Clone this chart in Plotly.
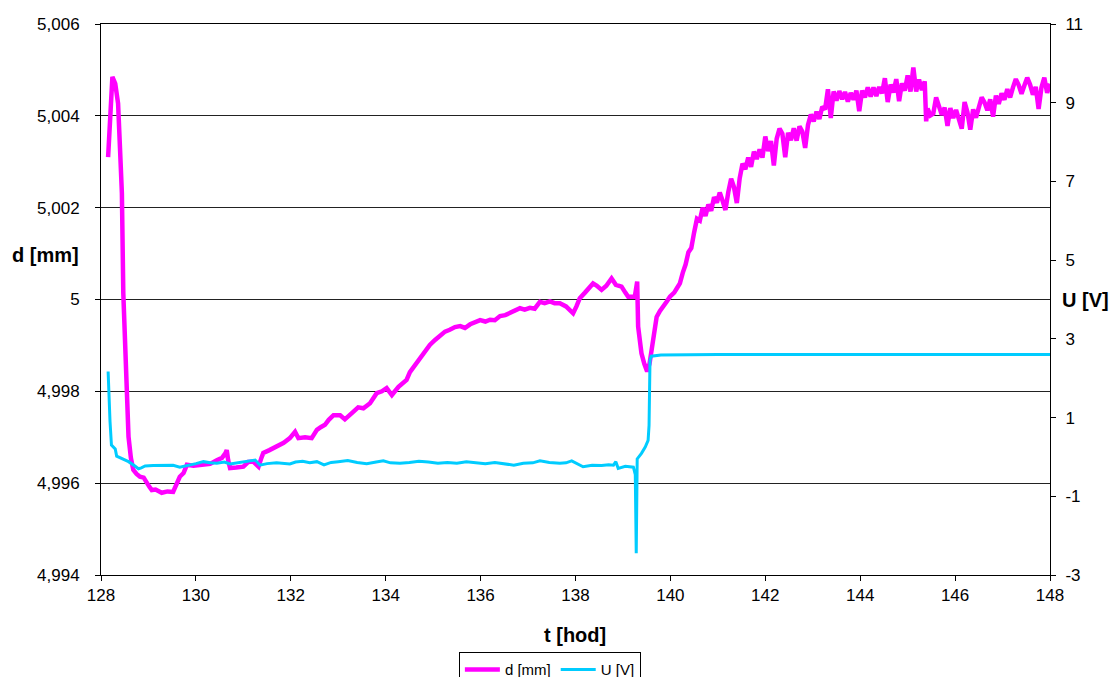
import plotly.graph_objects as go

# ---------------- data ----------------
t_d_a = [128.15, 128.20, 128.24, 128.30, 128.36, 128.40, 128.44, 128.47, 128.50, 128.53,
         128.58, 128.63, 128.68, 128.75, 128.82, 128.90, 128.96, 129.02, 129.07, 129.15,
         129.28, 129.40, 129.52, 129.60, 129.66, 129.74, 129.81, 129.95, 130.16, 130.30,
         130.44, 130.55, 130.62, 130.65, 130.68, 130.72, 130.85, 131.00, 131.10, 131.21,
         131.28, 131.32, 131.38, 131.42, 131.55, 131.70, 131.85, 131.98]
d_a = [5.00310, 5.00440, 5.00485, 5.00470, 5.00427, 5.00330, 5.00232, 5.00014, 4.99905, 4.99796,
       4.99701, 4.99655, 4.99629, 4.99620, 4.99614, 4.99612, 4.99600, 4.99592, 4.99585, 4.99586,
       4.99579, 4.99582, 4.99581, 4.99598, 4.99614, 4.99622, 4.99640, 4.99638, 4.99640, 4.99642,
       4.99650, 4.99655, 4.99665, 4.99672, 4.99650, 4.99633, 4.99634, 4.99636, 4.99646, 4.99647,
       4.99640, 4.99636, 4.99655, 4.99666, 4.99672, 4.99679, 4.99688, 4.99698]

t_d_b = [132.09, 132.16, 132.30, 132.44, 132.55, 132.63, 132.72, 132.80, 132.90, 133.04,
         133.14, 133.28, 133.42, 133.53, 133.67, 133.81, 133.92, 134.02, 134.13, 134.27,
         134.44, 134.51, 134.62, 134.72, 134.82, 134.93, 135.04, 135.14, 135.25, 135.35,
         135.46, 135.57, 135.67, 135.78, 135.88, 135.99, 136.10, 136.20, 136.30, 136.41,
         136.52, 136.62, 136.72, 136.83, 136.93, 137.04, 137.14, 137.25, 137.35, 137.46,
         137.56]
d_b = [4.99712, 4.99698, 4.99700, 4.99698, 4.99716, 4.99722, 4.99727, 4.99738, 4.99748, 4.99748,
       4.99739, 4.99752, 4.99765, 4.99763, 4.99774, 4.99796, 4.99800, 4.99807, 4.99792, 4.99810,
       4.99825, 4.99842, 4.99858, 4.99873, 4.99884, 4.99901, 4.99912, 4.99920, 4.99930, 4.99934,
       4.99940, 4.99942, 4.99938, 4.99946, 4.99950, 4.99955, 4.99952, 4.99956, 4.99955, 4.99964,
       4.99966, 4.99971, 4.99976, 4.99981, 4.99978, 4.99982, 4.99980, 4.99995, 4.99992, 4.99996,
       4.99992]

t_d_c = [137.67, 137.80, 137.95, 138.02, 138.09, 138.20, 138.37, 138.45, 138.55, 138.65,
         138.76, 138.85, 138.97, 139.05, 139.11, 139.25, 139.30, 139.32, 139.39, 139.45,
         139.51, 139.56, 139.61, 139.66, 139.71, 139.78, 139.85, 139.92, 139.99, 140.08,
         140.14]
d_c = [4.99992, 4.99985, 4.99970, 4.99985, 5.00003, 5.00015, 5.00035, 5.00030, 5.00021, 5.00030,
       5.00046, 5.00032, 5.00028, 5.00015, 5.00006, 5.00006, 5.00039, 4.99941, 4.99883, 4.99860,
       4.99843, 4.99860, 4.99897, 4.99935, 4.99962, 4.99975, 4.99984, 4.99995, 5.00006, 5.00015,
       5.00025]

t_d_d = [140.20, 140.26, 140.32, 140.38, 140.44, 140.50, 140.56, 140.62, 140.68, 140.74,
         140.80, 140.86, 140.92, 140.98, 141.04, 141.10, 141.16, 141.22, 141.28, 141.34,
         141.40, 141.46, 141.52, 141.58, 141.64, 141.70, 141.76, 141.82, 141.88, 141.94,
         142.00, 142.06, 142.12, 142.18, 142.24, 142.30, 142.36, 142.42, 142.48, 142.54,
         142.60, 142.66, 142.72, 142.78, 142.84, 142.90, 142.96, 143.02, 143.08, 143.14,
         143.20, 143.26, 143.32, 143.38, 143.44, 143.50, 143.56, 143.62, 143.68, 143.74,
         143.80, 143.86, 143.92, 143.98, 144.04, 144.10, 144.16, 144.22, 144.28, 144.34,
         144.40, 144.46, 144.52, 144.58, 144.64, 144.70, 144.76, 144.82, 144.88, 144.94,
         145.00, 145.06, 145.12, 145.18, 145.24, 145.30, 145.36, 145.39, 145.42, 145.48,
         145.54, 145.60, 145.66, 145.72, 145.78, 145.84, 145.90, 145.96, 146.02, 146.08,
         146.14, 146.20, 146.26, 146.32, 146.38, 146.44, 146.50, 146.56, 146.62, 146.68,
         146.74, 146.80, 146.86, 146.92, 146.98, 147.04, 147.10, 147.16, 147.22, 147.28,
         147.34, 147.40, 147.46, 147.52, 147.58, 147.64, 147.70, 147.76, 147.82, 147.88,
         147.94, 148.00]
d_d = [5.00035, 5.00058, 5.00076, 5.00103, 5.00112, 5.00146, 5.00176, 5.00172, 5.00200, 5.00182,
       5.00207, 5.00193, 5.00223, 5.00211, 5.00233, 5.00215, 5.00195, 5.00234, 5.00263, 5.00245,
       5.00210, 5.00264, 5.00296, 5.00284, 5.00309, 5.00289, 5.00322, 5.00306, 5.00327, 5.00309,
       5.00355, 5.00323, 5.00345, 5.00292, 5.00350, 5.00372, 5.00361, 5.00310, 5.00363, 5.00347,
       5.00373, 5.00346, 5.00377, 5.00366, 5.00330, 5.00380, 5.00403, 5.00388, 5.00409, 5.00393,
       5.00420, 5.00414, 5.00458, 5.00395, 5.00453, 5.00433, 5.00454, 5.00436, 5.00452, 5.00431,
       5.00450, 5.00435, 5.00455, 5.00410, 5.00455, 5.00440, 5.00462, 5.00442, 5.00462, 5.00443,
       5.00463, 5.00449, 5.00482, 5.00430, 5.00468, 5.00451, 5.00480, 5.00432, 5.00471, 5.00455,
       5.00488, 5.00453, 5.00505, 5.00453, 5.00479, 5.00456, 5.00475, 5.00388, 5.00416, 5.00401,
       5.00405, 5.00440, 5.00422, 5.00402, 5.00418, 5.00378, 5.00417, 5.00395, 5.00413, 5.00392,
       5.00372, 5.00430, 5.00408, 5.00370, 5.00414, 5.00396, 5.00418, 5.00440, 5.00429, 5.00412,
       5.00436, 5.00398, 5.00444, 5.00426, 5.00449, 5.00435, 5.00458, 5.00440, 5.00462, 5.00480,
       5.00467, 5.00448, 5.00466, 5.00483, 5.00468, 5.00446, 5.00463, 5.00415, 5.00462, 5.00483,
       5.00450, 5.00470]

t_u = [128.15, 128.17, 128.19, 128.22, 128.30, 128.33, 128.45, 128.58, 128.70, 128.79,
       128.85, 128.93, 129.10, 129.30, 129.52, 129.66, 129.88, 130.00, 130.16, 130.30,
       130.44, 130.60, 130.72, 130.90, 131.07, 131.25, 131.35, 131.50, 131.70, 131.85,
       131.98, 132.10, 132.25, 132.40, 132.55, 132.70, 132.85, 133.00, 133.20, 133.40,
       133.60, 133.80, 133.95, 134.10, 134.30, 134.50, 134.70, 134.90, 135.10, 135.30,
       135.50, 135.70, 135.90, 136.10, 136.30, 136.50, 136.70, 136.90, 137.10, 137.25,
       137.45, 137.67, 137.80, 137.92, 138.05, 138.16, 138.35, 138.55, 138.70, 138.80,
       138.85, 138.90, 139.05, 139.22, 139.26, 139.28, 139.30, 139.39, 139.47, 139.53,
       139.55, 139.56, 139.57, 139.60, 139.80, 141.00, 143.00, 145.00, 146.50, 148.00]
u_v = [2.17, 1.40, 0.90, 0.30, 0.20, 0.02, -0.04, -0.12, -0.22, -0.30,
       -0.28, -0.23, -0.22, -0.21, -0.21, -0.26, -0.21, -0.17, -0.12, -0.15,
       -0.16, -0.13, -0.18, -0.15, -0.12, -0.08, -0.21, -0.17, -0.15, -0.16,
       -0.18, -0.13, -0.11, -0.15, -0.12, -0.20, -0.14, -0.12, -0.09, -0.14,
       -0.17, -0.13, -0.10, -0.15, -0.16, -0.14, -0.11, -0.13, -0.16, -0.14,
       -0.16, -0.12, -0.15, -0.17, -0.14, -0.18, -0.21, -0.16, -0.15, -0.10,
       -0.14, -0.16, -0.15, -0.10, -0.18, -0.25, -0.21, -0.22, -0.20, -0.21,
       -0.12, -0.29, -0.24, -0.26, -0.45, -2.45, -0.05, 0.09, 0.25, 0.42,
       0.80, 1.80, 2.46, 2.56, 2.59, 2.60, 2.60, 2.60, 2.60, 2.60]

t_d = t_d_a + t_d_b + t_d_c + t_d_d
d_mm = d_a + d_b + d_c + d_d

x_ticks = [128, 130, 132, 134, 136, 138, 140, 142, 144, 146, 148]
y_ticks = [4.994, 4.996, 4.998, 5.000, 5.002, 5.004, 5.006]
y_tick_labels = ["4,994", "4,996", "4,998", "5", "5,002", "5,004", "5,006"]
y2_ticks = [-3, -1, 1, 3, 5, 7, 9, 11]
y2_tick_labels = ["-3", "-1", "1", "3", "5", "7", "9", "11"]

FONT = "Liberation Sans, Arial, sans-serif"

fig = go.Figure()
fig.add_trace(go.Scatter(x=t_d, y=d_mm, mode="lines", name="d [mm]",
                         line=dict(color="#FF00FF", width=4.5)))
fig.add_trace(go.Scatter(x=t_u, y=u_v, mode="lines", name="U [V]", yaxis="y2",
                         line=dict(color="#00CCFF", width=3)))

fig.update_layout(
    width=1116, height=677,
    margin=dict(l=101, r=66, t=24, b=102, autoexpand=False),
    paper_bgcolor="white", plot_bgcolor="white",
    font=dict(family=FONT, size=17, color="black"),
    showlegend=True,
    legend=dict(orientation="h", x=0.473, xanchor="center", y=-0.14, yanchor="top",
                bordercolor="black", borderwidth=1, font=dict(size=15),
                itemwidth=35, tracegroupgap=0),
    xaxis=dict(range=[128, 148], tickvals=x_ticks, ticks="outside", ticklen=5,
               tickcolor="black", showline=True, linecolor="black", linewidth=1,
               mirror=True, showgrid=False, zeroline=False, ticklabelstandoff=0,
               automargin=False),
    yaxis=dict(range=[4.994, 5.006], tickvals=y_ticks, ticktext=y_tick_labels,
               ticks="outside", ticklen=5, tickcolor="black", showline=True,
               linecolor="black", linewidth=1, showgrid=True, gridcolor="#222222",
               gridwidth=1, zeroline=False, ticklabelstandoff=12, automargin=False),
    yaxis2=dict(range=[-3, 11], tickvals=y2_ticks, ticktext=y2_tick_labels,
                overlaying="y", side="right", ticks="outside", ticklen=5,
                tickcolor="black", showline=True, linecolor="black", linewidth=1,
                showgrid=False, zeroline=False, ticklabelstandoff=6, automargin=False),
    annotations=[
        dict(text="<b>d [mm]</b>", xref="paper", yref="paper", x=-0.059, y=0.581,
             xanchor="center", yanchor="middle", showarrow=False, font=dict(size=20)),
        dict(text="<b>U [V]</b>", xref="paper", yref="paper", x=1.037, y=0.499,
             xanchor="center", yanchor="middle", showarrow=False, font=dict(size=20)),
        dict(text="<b>t [hod]</b>", xref="paper", yref="paper", x=0.4995, y=-0.109,
             xanchor="center", yanchor="middle", showarrow=False, font=dict(size=20)),
    ],
)

fig.write_html("out.html", config={"displayModeBar": False},
               post_script="document.body.style.margin='0px';document.body.style.padding='0px';")
